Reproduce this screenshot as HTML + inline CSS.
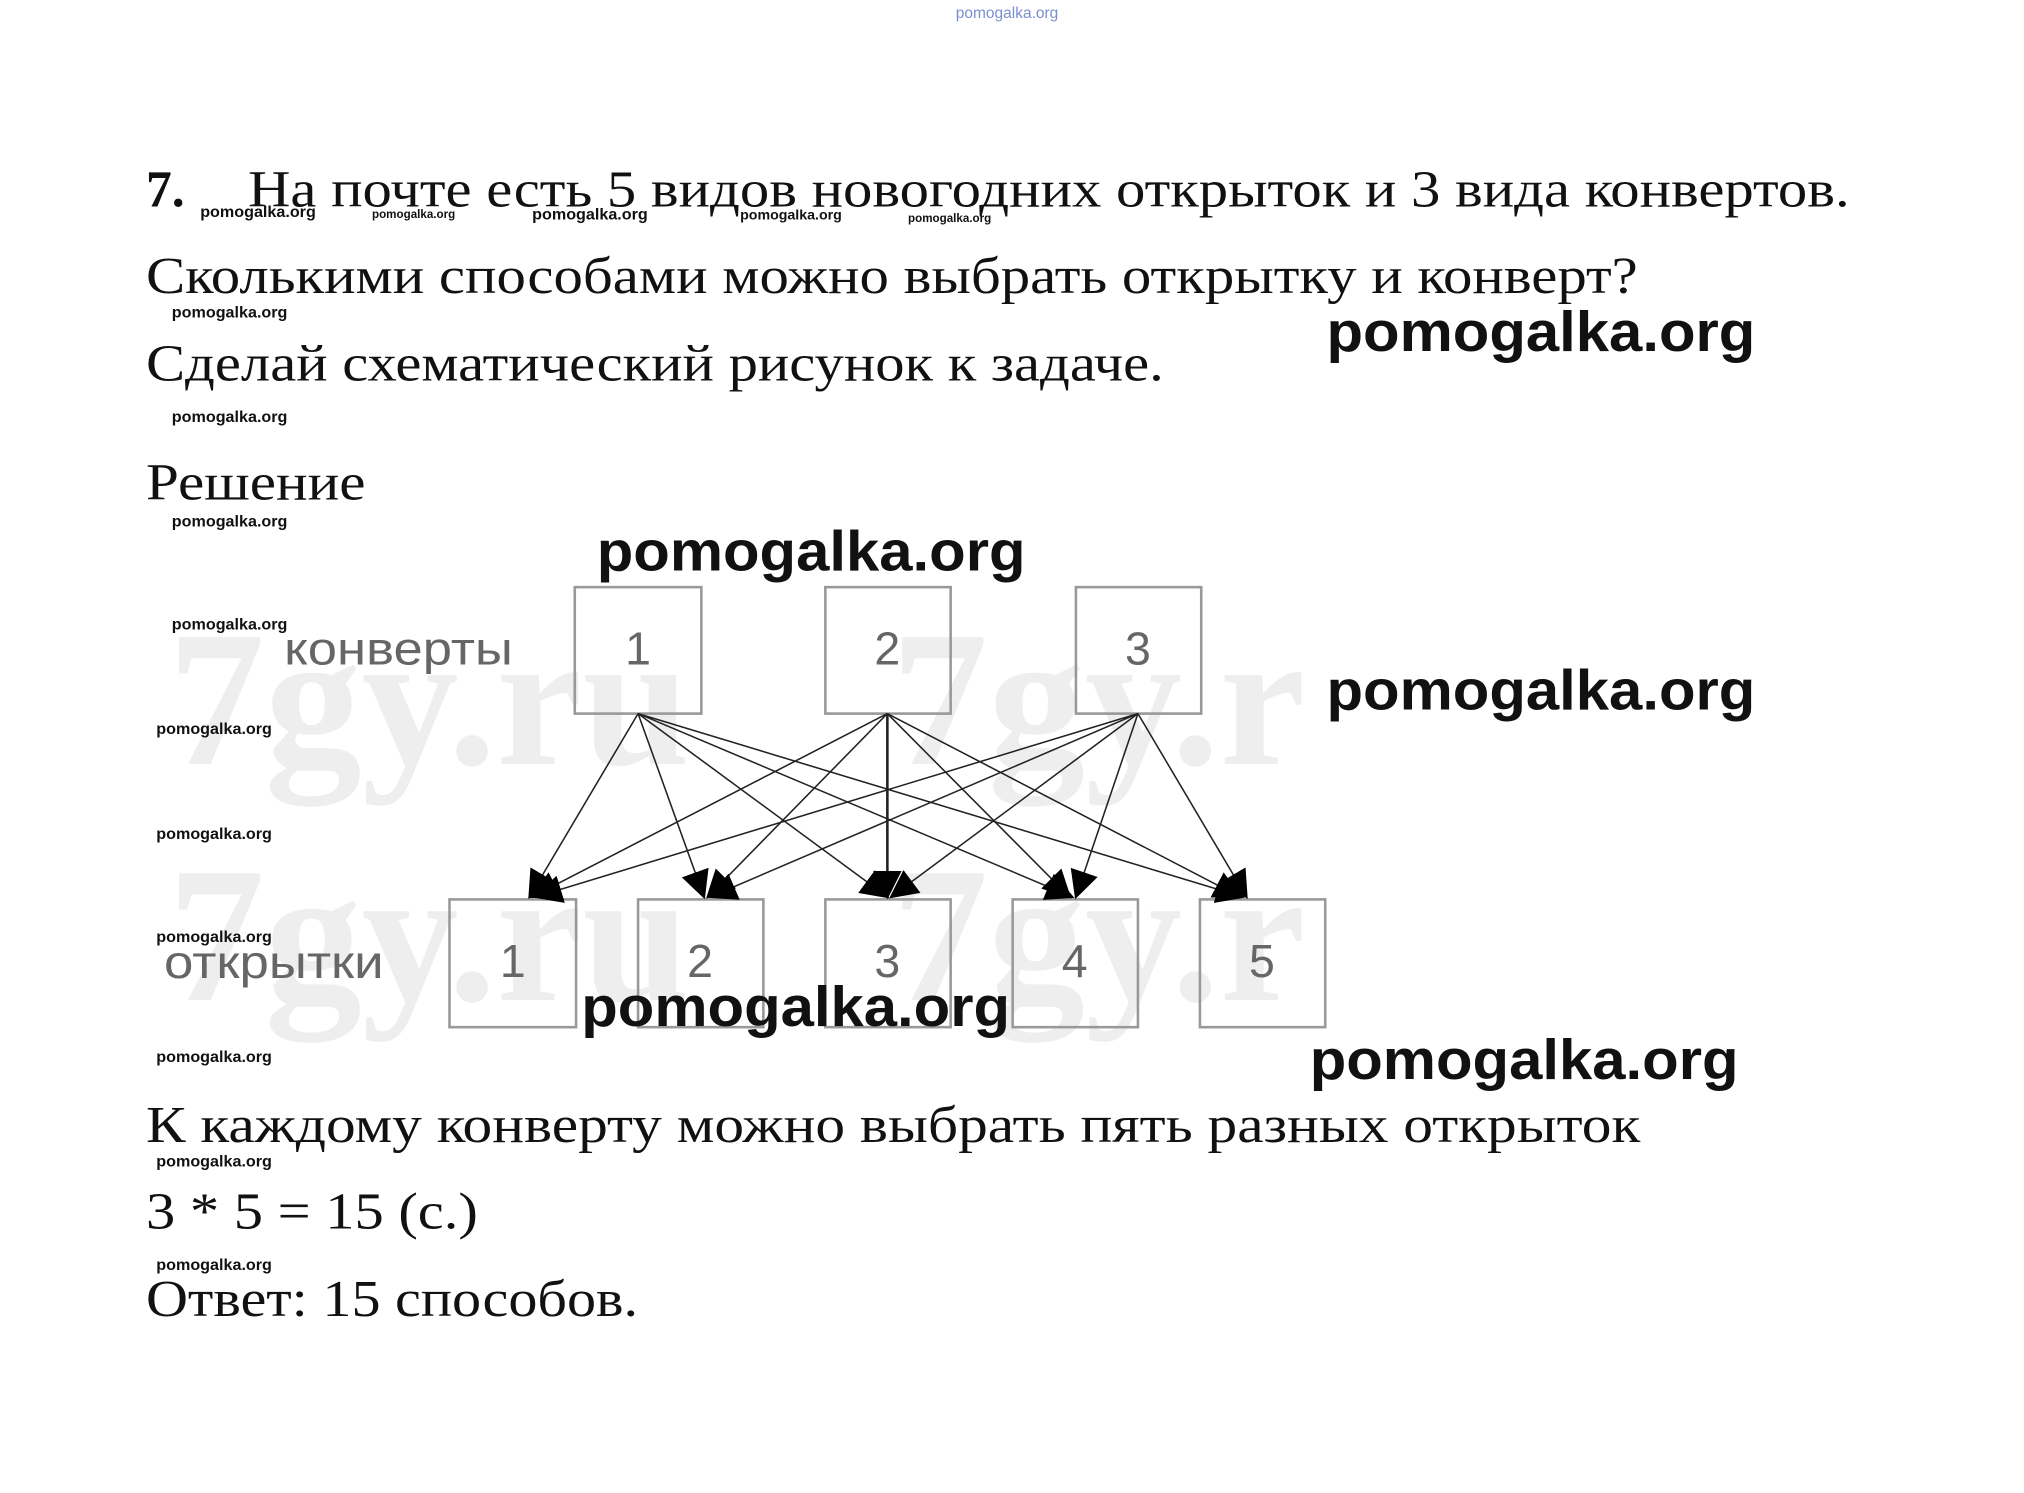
<!DOCTYPE html>
<html><head><meta charset="utf-8"><style>
html,body{margin:0;padding:0;background:#fff;width:2024px;height:1493px;overflow:hidden}
svg{display:block}
.s{font-family:"Liberation Serif",serif;fill:#111}
.w{font-family:"Liberation Sans",sans-serif;font-weight:bold;fill:#111;font-size:12.5px}
.b{font-family:"Liberation Sans",sans-serif;font-weight:bold;fill:#111;font-size:44px}
.g{font-family:"Liberation Sans",sans-serif;fill:#666;font-size:36px}
.wm{font-family:"Liberation Serif",serif;font-weight:bold;fill:#eeeeee;font-size:150px}
</style></head><body>
<svg width="2024" height="1493" viewBox="0 0 1567 1157" preserveAspectRatio="none">
<defs><marker id="ab" markerWidth="22" markerHeight="22" refX="20" refY="11" orient="auto" markerUnits="userSpaceOnUse"><path d="M0,0 L22,11 L0,22 z" fill="#000"/></marker></defs>
<text x="740" y="14" style="font-family:'Liberation Sans',sans-serif;font-size:12px;fill:#7a8fcf">pomogalka.org</text>
<text class="wm" x="130" y="592">7gy.ru</text>
<text class="wm" x="690" y="592">7gy.r</text>
<text class="wm" x="130" y="775">7gy.ru</text>
<text class="wm" x="690" y="775">7gy.r</text>
<text class="s" x="113" y="160" font-size="40" font-weight="bold">7.</text>
<text class="s" x="192" y="160" font-size="40" textLength="1240" lengthAdjust="spacingAndGlyphs">На почте есть 5 видов новогодних открыток и 3 вида конвертов.</text>
<text class="s" x="113" y="227" font-size="40" textLength="1155" lengthAdjust="spacingAndGlyphs">Сколькими способами можно выбрать открытку и конверт?</text>
<text class="s" x="113" y="295" font-size="40" textLength="788" lengthAdjust="spacingAndGlyphs">Сделай схематический рисунок к задаче.</text>
<text class="s" x="113" y="387" font-size="40" textLength="170" lengthAdjust="spacingAndGlyphs">Решение</text>
<text class="w" x="155" y="168" font-size="11">pomogalka.org</text>
<text class="w" x="288" y="169" style="font-size:9px">pomogalka.org</text>
<text class="w" x="412" y="170">pomogalka.org</text>
<text class="w" x="573" y="170" style="font-size:11px">pomogalka.org</text>
<text class="w" x="703" y="172" style="font-size:9px">pomogalka.org</text>
<text class="w" x="133" y="246">pomogalka.org</text>
<text class="w" x="133" y="327">pomogalka.org</text>
<text class="w" x="133" y="408">pomogalka.org</text>
<text class="w" x="133" y="488">pomogalka.org</text>
<text class="w" x="121" y="569">pomogalka.org</text>
<text class="w" x="121" y="650">pomogalka.org</text>
<text class="w" x="121" y="730">pomogalka.org</text>
<text class="w" x="121" y="823">pomogalka.org</text>
<text class="w" x="121" y="904">pomogalka.org</text>
<text class="w" x="121" y="984">pomogalka.org</text>
<g fill="none" stroke="#999" stroke-width="2">
<rect x="445" y="455" width="98" height="98"/><rect x="639" y="455" width="97" height="98"/><rect x="833" y="455" width="97" height="98"/>
<rect x="348" y="697" width="98" height="99"/><rect x="494" y="697" width="97" height="99"/><rect x="639" y="697" width="97" height="99"/><rect x="784" y="697" width="97" height="99"/><rect x="929" y="697" width="97" height="99"/>
</g>
<text class="g" x="220" y="515" textLength="177" lengthAdjust="spacingAndGlyphs">конверты</text>
<text class="g" x="127" y="758" textLength="170" lengthAdjust="spacingAndGlyphs">открытки</text>
<g class="g" text-anchor="middle"><text x="494" y="515">1</text><text x="687" y="515">2</text><text x="881" y="515">3</text>
<text x="397" y="757">1</text><text x="542" y="757">2</text><text x="687" y="757">3</text><text x="832" y="757">4</text><text x="977" y="757">5</text></g>
<g stroke="#222" stroke-width="1.2" marker-end="url(#ab)">
<line x1="494" y1="553" x2="410" y2="695"/><line x1="494" y1="553" x2="545" y2="695"/><line x1="494" y1="553" x2="687" y2="695"/><line x1="494" y1="553" x2="830" y2="695"/><line x1="494" y1="553" x2="962" y2="695"/>
<line x1="687" y1="553" x2="412" y2="695"/><line x1="687" y1="553" x2="548" y2="695"/><line x1="687" y1="553" x2="687" y2="695" stroke-width="2"/><line x1="687" y1="553" x2="828" y2="695"/><line x1="687" y1="553" x2="960" y2="695"/>
<line x1="881" y1="553" x2="415" y2="695"/><line x1="881" y1="553" x2="550" y2="695"/><line x1="881" y1="553" x2="690" y2="695"/><line x1="881" y1="553" x2="833" y2="695"/><line x1="881" y1="553" x2="965" y2="695"/>
</g>
<text class="b" x="1027" y="272" textLength="332" lengthAdjust="spacingAndGlyphs">pomogalka.org</text>
<text class="b" x="462" y="442" textLength="332" lengthAdjust="spacingAndGlyphs">pomogalka.org</text>
<text class="b" x="1027" y="550" textLength="332" lengthAdjust="spacingAndGlyphs">pomogalka.org</text>
<text class="b" x="450" y="795" textLength="332" lengthAdjust="spacingAndGlyphs">pomogalka.org</text>
<text class="b" x="1014" y="836" textLength="332" lengthAdjust="spacingAndGlyphs">pomogalka.org</text>
<text class="s" x="113" y="885" font-size="40" textLength="1157" lengthAdjust="spacingAndGlyphs">К каждому конверту  можно выбрать пять разных открыток</text>
<text class="s" x="113" y="952" font-size="40" textLength="257" lengthAdjust="spacingAndGlyphs">3 * 5 = 15 (с.)</text>
<text class="s" x="113" y="1020" font-size="40" textLength="381" lengthAdjust="spacingAndGlyphs">Ответ: 15 способов.</text>
</svg>
</body></html>
